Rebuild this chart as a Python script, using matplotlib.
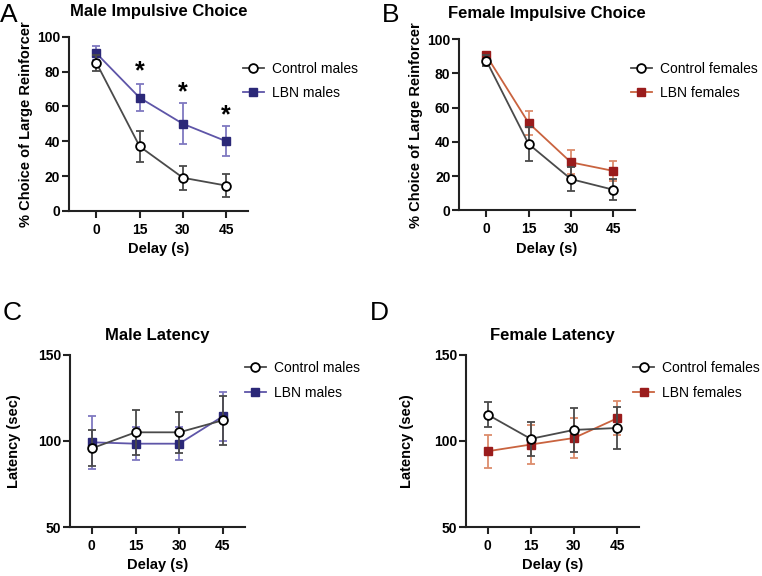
import matplotlib.pyplot as plt
import numpy as np

plt.rcParams['font.family'] = ['Liberation Sans', 'DejaVu Sans']

delay = [0, 15, 30, 45]

# A - male impulsive choice
a_ctrl = [85, 37, 19, 14.5]
a_ctrl_err = [4.5, 8.8, 7, 6.5]
a_lbn = [90.5, 65, 50, 40]
a_lbn_err = [4, 7.8, 11.7, 8.6]
a_stars = [None, 80, 68, 55]

# B - female impulsive choice
b_ctrl = [87.5, 38.7, 18.2, 12]
b_ctrl_err = [3, 10, 7, 6]
b_lbn = [90.5, 51, 28, 23]
b_lbn_err = [2, 7.2, 7, 5.7]

# C - male latency
c_ctrl = [95.7, 105, 105, 112]
c_ctrl_err = [10.4, 12.9, 12, 14.2]
c_lbn = [99.2, 98.4, 98.4, 114.3]
c_lbn_err = [15.3, 9.7, 9.5, 14.3]

# D - female latency
d_ctrl = [115.3, 101.2, 106.4, 107.5]
d_ctrl_err = [7.5, 9.7, 12.8, 12.2]
d_lbn = [94, 97.9, 101.7, 113.1]
d_lbn_err = [9.7, 11.5, 11.6, 9.9]

ctrl_col = '#4a4a4a'
male_mk, male_ln, male_eb = '#2b2878', '#5e55a8', '#7f78c0'
fem_mk, fem_ln, fem_eb = '#9a1c1c', '#c9633f', '#dc8c6c'

fig = plt.figure(figsize=(7.62, 5.76), dpi=100)

def panel(rect, ctrl, ctrl_err, lbn, lbn_err, cols, names, title, ylabel,
          ylim, yticks, xlim, letter, letter_pos, leg_pos, tpad, ypad):
    mk, ln, eb = cols
    ax = fig.add_axes(rect)
    ax.errorbar(delay, lbn, yerr=lbn_err, color=ln, ecolor=eb, elinewidth=1.3,
                capsize=2.8, capthick=1.3, lw=1.3, marker='s', ms=5.5,
                mfc=mk, mec=mk, zorder=2, clip_on=False)
    ax.errorbar(delay, ctrl, yerr=ctrl_err, color=ctrl_col, ecolor=ctrl_col,
                elinewidth=1.3, capsize=2.8, capthick=1.3, lw=1.3, marker='o',
                ms=6.3, mfc='white', mec='black', mew=1.3, zorder=3, clip_on=False)
    ax.set_xlim(*xlim)
    ax.set_ylim(*ylim)
    ax.set_xticks(delay)
    ax.set_yticks(yticks)
    for s in ['top', 'right']:
        ax.spines[s].set_visible(False)
    for s in ['left', 'bottom']:
        ax.spines[s].set_linewidth(1.5)
        ax.spines[s].set_color('#222222')
    ax.tick_params(width=1.5, length=5, labelsize=10, color='#222222')
    ax.tick_params(axis='y', pad=1.5)
    for lab in ax.get_xticklabels() + ax.get_yticklabels():
        lab.set_fontweight('bold')
    ax.set_xlabel('Delay (s)', fontsize=10.5, fontweight='bold', labelpad=4)
    ax.set_ylabel(ylabel, fontsize=10.5, fontweight='bold', labelpad=ypad)
    ax.set_title(title, fontsize=12, fontweight='bold', pad=tpad)
    ctrl_h = plt.Line2D([], [], color=ctrl_col, lw=1.3, marker='o', ms=6.3,
                        mfc='white', mec='black', mew=1.3)
    lbn_h = plt.Line2D([], [], color=ln, lw=1.3, marker='s', ms=5.5,
                       mfc=mk, mec=mk)
    fig.legend([ctrl_h, lbn_h], names, loc='upper left',
               bbox_to_anchor=leg_pos, frameon=False, borderpad=0,
               borderaxespad=0, fontsize=10, handlelength=1.5,
               handletextpad=0.6, labelspacing=0.75)
    fig.text(letter_pos[0], letter_pos[1], letter, fontsize=19, va='top')
    return ax

ax_a = panel([0.0906, 0.634, 0.235, 0.302], a_ctrl, a_ctrl_err, a_lbn, a_lbn_err,
             (male_mk, male_ln, male_eb), ['Control males', 'LBN males'],
             'Male Impulsive Choice', '% Choice of Large Reinforcer',
             (0, 100), [0, 20, 40, 60, 80, 100], (-9.5, 52.6), 'A',
             (0.0, 0.995), (0.319, 0.893), 15, 3)
for x, s in zip(delay, a_stars):
    if s is not None:
        ax_a.text(x, s, '*', ha='center', va='center', fontsize=18,
                  fontweight='bold')

panel([0.603, 0.635, 0.230, 0.297], b_ctrl, b_ctrl_err, b_lbn, b_lbn_err,
      (fem_mk, fem_ln, fem_eb), ['Control females', 'LBN females'],
      'Female Impulsive Choice', '% Choice of Large Reinforcer',
      (0, 100), [0, 20, 40, 60, 80, 100], (-9.5, 52.6), 'B',
      (0.501, 0.995), (0.828, 0.893), 15, 3)

panel([0.0919, 0.085, 0.2297, 0.299], c_ctrl, c_ctrl_err, c_lbn, c_lbn_err,
      (male_mk, male_ln, male_eb), ['Control males', 'LBN males'],
      'Male Latency', 'Latency (sec)',
      (50, 150), [50, 100, 150], (-7.5, 52.6), 'C',
      (0.003, 0.478), (0.3215, 0.373), 10.5, 12)

panel([0.6115, 0.085, 0.227, 0.299], d_ctrl, d_ctrl_err, d_lbn, d_lbn_err,
      (fem_mk, fem_ln, fem_eb), ['Control females', 'LBN females'],
      'Female Latency', 'Latency (sec)',
      (50, 150), [50, 100, 150], (-7.5, 52.6), 'D',
      (0.485, 0.478), (0.831, 0.373), 10.5, 14)

fig.savefig('out.png', dpi=100)
